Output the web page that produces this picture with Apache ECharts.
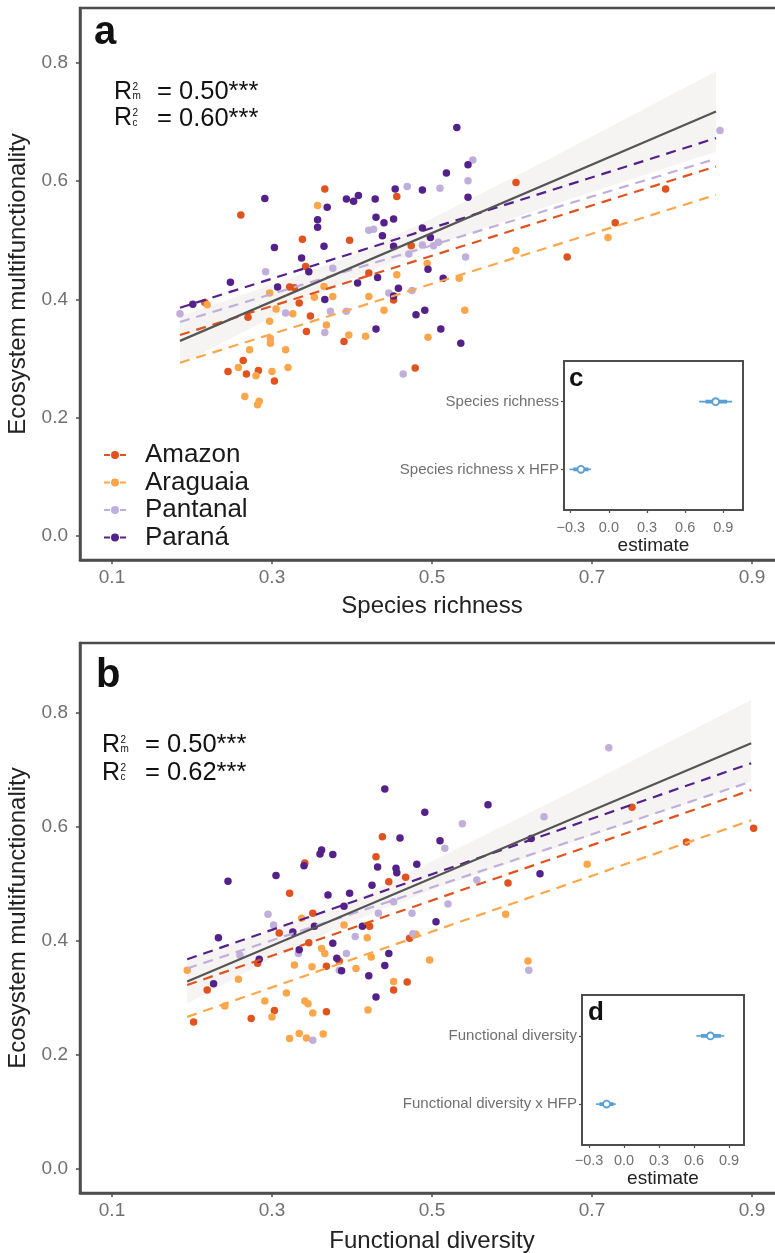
<!DOCTYPE html>
<html>
<head>
<meta charset="utf-8">
<script src="https://cdn.jsdelivr.net/npm/echarts@6/dist/echarts.min.js"></script>
<style>
html,body{margin:0;padding:0;background:#fff;}
#chart{width:775px;height:1253px;}
</style>
</head>
<body>
<div id="chart"></div>
<script>
// ---------------- DATA ----------------
const regions = ['Amazon', 'Araguaia', 'Pantanal', 'Paraná'];

// Panel a: species richness vs multifunctionality
const amazonA = [[0.366,0.587],[0.456,0.574],[0.605,0.598],[0.792,0.587],[0.729,0.530],[0.669,0.472],[0.261,0.543],[0.338,0.502],[0.397,0.500],[0.474,0.491],[0.342,0.456],[0.421,0.445],[0.322,0.421],[0.328,0.420],[0.216,0.395],[0.334,0.394],[0.348,0.372],[0.343,0.346],[0.390,0.329],[0.270,0.370],[0.264,0.297],[0.245,0.278],[0.268,0.274],[0.283,0.280],[0.303,0.262],[0.479,0.284],[0.452,0.399]];
const araguaiaA = [[0.357,0.559],[0.456,0.442],[0.421,0.405],[0.605,0.483],[0.720,0.505],[0.494,0.461],[0.534,0.436],[0.541,0.382],[0.219,0.391],[0.297,0.411],[0.376,0.405],[0.365,0.422],[0.305,0.384],[0.326,0.376],[0.353,0.404],[0.297,0.363],[0.272,0.315],[0.317,0.315],[0.298,0.334],[0.298,0.326],[0.368,0.357],[0.396,0.340],[0.417,0.338],[0.440,0.382],[0.495,0.336],[0.258,0.285],[0.280,0.271],[0.300,0.278],[0.320,0.285],[0.266,0.236],[0.282,0.222],[0.284,0.228]];
const pantanalA = [[0.551,0.636],[0.545,0.601],[0.510,0.588],[0.469,0.591],[0.421,0.517],[0.427,0.519],[0.488,0.492],[0.502,0.491],[0.508,0.497],[0.542,0.472],[0.471,0.477],[0.860,0.686],[0.376,0.453],[0.292,0.447],[0.393,0.380],[0.446,0.411],[0.475,0.415],[0.185,0.376],[0.317,0.377],[0.373,0.380],[0.366,0.344],[0.464,0.274]];
const paranaA = [[0.531,0.691],[0.545,0.628],[0.545,0.573],[0.518,0.614],[0.488,0.585],[0.454,0.587],[0.429,0.570],[0.408,0.576],[0.402,0.566],[0.393,0.570],[0.369,0.556],[0.291,0.571],[0.357,0.535],[0.357,0.522],[0.430,0.539],[0.440,0.530],[0.452,0.536],[0.438,0.508],[0.365,0.490],[0.303,0.488],[0.337,0.470],[0.346,0.447],[0.407,0.428],[0.432,0.437],[0.458,0.419],[0.248,0.429],[0.201,0.392],[0.495,0.451],[0.514,0.436],[0.498,0.505],[0.488,0.521],[0.452,0.490],[0.307,0.421],[0.366,0.400],[0.452,0.406],[0.480,0.374],[0.491,0.382],[0.430,0.350],[0.511,0.350],[0.536,0.326]];

// Panel a fitted lines (x range, y at ends)
const fitAX = [0.185, 0.855];
const fitAOverall = [0.330, 0.718];
const fitAAmazon = [0.340, 0.625];
const fitAAraguaia = [0.293, 0.577];
const fitAPantanal = [0.362, 0.638];
const fitAParana = [0.386, 0.673];
// Panel a confidence ribbon
const ribbonAX = [0.185, 0.30, 0.40, 0.50, 0.65, 0.855];
const ribbonALo = [0.290, 0.370, 0.436, 0.490, 0.560, 0.650];
const ribbonAHi = [0.372, 0.425, 0.474, 0.537, 0.640, 0.786];

// Panel b: functional diversity vs multifunctionality
const amazonB = [[0.438,0.583],[0.430,0.548],[0.341,0.537],[0.467,0.512],[0.446,0.504],[0.322,0.484],[0.595,0.502],[0.750,0.635],[0.818,0.574],[0.902,0.598],[0.351,0.449],[0.422,0.426],[0.309,0.414],[0.346,0.397],[0.282,0.361],[0.368,0.356],[0.384,0.365],[0.219,0.314],[0.202,0.258],[0.274,0.264],[0.303,0.278],[0.368,0.276],[0.452,0.314],[0.469,0.328],[0.472,0.405]];
const araguaiaB = [[0.694,0.535],[0.592,0.447],[0.194,0.349],[0.258,0.333],[0.241,0.286],[0.291,0.295],[0.318,0.309],[0.300,0.267],[0.341,0.295],[0.345,0.290],[0.351,0.274],[0.322,0.229],[0.334,0.238],[0.364,0.237],[0.343,0.230],[0.328,0.358],[0.350,0.355],[0.337,0.440],[0.362,0.387],[0.366,0.378],[0.405,0.352],[0.419,0.406],[0.424,0.372],[0.420,0.279],[0.452,0.329],[0.480,0.412],[0.497,0.367],[0.620,0.365],[0.390,0.428]];
const pantanalB = [[0.721,0.739],[0.538,0.606],[0.640,0.618],[0.516,0.563],[0.556,0.507],[0.452,0.469],[0.475,0.449],[0.520,0.465],[0.295,0.447],[0.302,0.428],[0.260,0.375],[0.333,0.378],[0.393,0.378],[0.404,0.408],[0.384,0.349],[0.351,0.226],[0.621,0.349],[0.476,0.413],[0.433,0.449]];
const paranaB = [[0.441,0.667],[0.570,0.639],[0.491,0.626],[0.510,0.576],[0.460,0.581],[0.362,0.560],[0.360,0.553],[0.376,0.552],[0.340,0.532],[0.305,0.515],[0.245,0.505],[0.432,0.530],[0.455,0.528],[0.456,0.520],[0.481,0.535],[0.425,0.498],[0.370,0.481],[0.397,0.484],[0.635,0.518],[0.624,0.580],[0.390,0.461],[0.505,0.434],[0.233,0.406],[0.227,0.325],[0.284,0.368],[0.326,0.416],[0.334,0.385],[0.376,0.396],[0.381,0.370],[0.387,0.348],[0.413,0.426],[0.421,0.339],[0.430,0.302],[0.441,0.357],[0.446,0.378],[0.353,0.426]];

const fitBX = [0.194, 0.899];
const fitBOverall = [0.329, 0.747];
const fitBAmazon = [0.323, 0.665];
const fitBAraguaia = [0.267, 0.612];
const fitBPantanal = [0.352, 0.680];
const fitBParana = [0.368, 0.712];
const ribbonBX = [0.194, 0.30, 0.40, 0.50, 0.70, 0.899];
const ribbonBLo = [0.290, 0.370, 0.434, 0.490, 0.585, 0.680];
const ribbonBHi = [0.370, 0.420, 0.470, 0.540, 0.680, 0.823];

// Insets c & d: coefficient estimates
const termsC = ['Species richness', 'Species richness x HFP'];
const estC = [0.84, -0.22];
const loC = [0.71, -0.31];
const hiC = [0.97, -0.14];
const lo90C = [0.76, -0.28];
const hi90C = [0.93, -0.16];

const termsD = ['Functional diversity', 'Functional diversity x HFP'];
const estD = [0.74, -0.15];
const loD = [0.62, -0.24];
const hiD = [0.86, -0.07];
const lo90D = [0.66, -0.21];
const hi90D = [0.83, -0.09];

const mainXTicks = [0.1, 0.3, 0.5, 0.7, 0.9];
const mainYTicks = [0, 0.2, 0.4, 0.6, 0.8];
const insetXTicks = [-0.3, 0, 0.3, 0.6, 0.9];

// ---------------- STYLE ----------------
const FONT = '"Liberation Sans", Arial, Helvetica, sans-serif';
const COLORS = {'Amazon':'#e0531f','Araguaia':'#fca64a','Pantanal':'#c0aedb','Paraná':'#54208a'};
const AXIS = '#4d4d4d';
const TICKTXT = '#707070';
const BLUE = '#5a9fd4';

function mainX(gi, name, gap) {
  return {
    gridIndex: gi, type: 'value', min: 0.06, max: 0.94,
    axisLine: {show: true, onZero: false, lineStyle: {color: AXIS, width: 2.5}},
    axisTick: {show: true, length: 4, customValues: mainXTicks, lineStyle: {color: AXIS, width: 1.5}},
    axisLabel: {customValues: mainXTicks, formatter: v => v.toFixed(1), color: TICKTXT, fontSize: 19, fontFamily: FONT, margin: 8},
    splitLine: {show: false},
    name: name, nameLocation: 'middle', nameGap: gap,
    nameTextStyle: {fontSize: 24, color: '#222', fontFamily: FONT}
  };
}
function mainY(gi, min, max) {
  return {
    gridIndex: gi, type: 'value', min: min, max: max,
    axisLine: {show: true, onZero: false, lineStyle: {color: AXIS, width: 2.5}},
    axisTick: {show: true, length: 4, customValues: mainYTicks, lineStyle: {color: AXIS, width: 1.5}},
    axisLabel: {customValues: mainYTicks, formatter: v => v.toFixed(1), color: TICKTXT, fontSize: 19, fontFamily: FONT, margin: 12},
    splitLine: {show: false},
    name: 'Ecosystem multifunctionality', nameLocation: 'middle', nameGap: 46,
    nameTextStyle: {fontSize: 24, color: '#222', fontFamily: FONT}
  };
}
function insetX(gi, min, max, margin, gap) {
  return {
    gridIndex: gi, type: 'value', min: min, max: max,
    axisLine: {show: true, onZero: false, lineStyle: {color: AXIS, width: 2}},
    axisTick: {show: true, length: 3, customValues: insetXTicks, lineStyle: {color: AXIS, width: 1.2}},
    axisLabel: {customValues: insetXTicks, formatter: v => (v < 0 ? '\u2212' : '') + Math.abs(v).toFixed(1), color: TICKTXT, fontSize: 14.5, fontFamily: FONT, margin: margin},
    splitLine: {show: false},
    name: 'estimate', nameLocation: 'middle', nameGap: gap,
    nameTextStyle: {fontSize: 19, color: '#222', fontFamily: FONT}
  };
}
function insetY(gi, terms) {
  const vals = terms.map((t, i) => terms.length - i);
  return {
    gridIndex: gi, type: 'value', min: 0.4, max: 2.6,
    axisLine: {show: true, onZero: false, lineStyle: {color: AXIS, width: 2}},
    axisTick: {show: true, length: 3, customValues: vals, lineStyle: {color: AXIS, width: 1.2}},
    axisLabel: {customValues: vals, formatter: v => terms[terms.length - Math.round(v)], color: TICKTXT, fontSize: 15, fontFamily: FONT, margin: 5},
    splitLine: {show: false}
  };
}

function scatter(name, data, gi) {
  return {type: 'scatter', name: name, data: data, xAxisIndex: gi, yAxisIndex: gi,
    symbolSize: 7.5, itemStyle: {color: COLORS[name], opacity: 1}, z: 3, silent: true};
}
function fitLine(name, xs, ys, gi, dashed) {
  return {type: 'line', name: name + ' fit', data: xs.map((x, i) => [x, ys[i]]),
    xAxisIndex: gi, yAxisIndex: gi, showSymbol: false, symbol: 'none', silent: true, z: dashed ? 4 : 5,
    lineStyle: dashed ? {color: COLORS[name], width: 2.2, type: [10, 7]} : {color: '#555', width: 2.2, type: 'solid'}};
}
function ribbon(xs, lo, hi, gi) {
  return {type: 'custom', xAxisIndex: gi, yAxisIndex: gi, silent: true, z: 2,
    data: [[xs[0], lo[0]]],
    renderItem: (params, api) => {
      const pts = [];
      xs.forEach((x, i) => pts.push(api.coord([x, hi[i]])));
      for (let i = xs.length - 1; i >= 0; i--) pts.push(api.coord([xs[i], lo[i]]));
      return {type: 'polygon', shape: {points: pts}, style: {fill: 'rgba(215,205,195,0.22)'}};
    }};
}
function coef(est, lo, hi, lo9, hi9, gi) {
  const n = est.length;
  return {type: 'custom', xAxisIndex: gi, yAxisIndex: gi, silent: true, z: 6,
    encode: {x: [0, 2, 3], y: 1},
    data: est.map((e, i) => [e, n - i, lo[i], hi[i], lo9[i], hi9[i]]),
    renderItem: (params, api) => {
      const y = api.value(1);
      const a = api.coord([api.value(2), y]), b = api.coord([api.value(3), y]);
      const c = api.coord([api.value(4), y]), d = api.coord([api.value(5), y]);
      const p = api.coord([api.value(0), y]);
      return {type: 'group', children: [
        {type: 'line', shape: {x1: a[0], y1: a[1], x2: b[0], y2: b[1]}, style: {stroke: BLUE, lineWidth: 1.6}},
        {type: 'line', shape: {x1: c[0], y1: c[1], x2: d[0], y2: d[1]}, style: {stroke: BLUE, lineWidth: 3.8}},
        {type: 'circle', shape: {cx: p[0], cy: p[1], r: 3.4}, style: {fill: '#fff', stroke: BLUE, lineWidth: 1.8}}
      ]};
    }};
}
function zeroLine(gi) {
  return {type: 'line', data: [[0, 0.4], [0, 2.6]], xAxisIndex: gi, yAxisIndex: gi, showSymbol: false, symbol: 'none',
    silent: true, z: 3, lineStyle: {color: '#aaa', width: 1, type: [2, 2]}};
}

function r2(x, y, sub, val) {
  return [
    {type: 'text', x: x, y: y, style: {text: 'R', font: '25px ' + FONT, fill: '#111', textVerticalAlign: 'middle'}},
    {type: 'text', x: x + 18.5, y: y - 5, style: {text: '2', font: '10px ' + FONT, fill: '#111', textVerticalAlign: 'middle'}},
    {type: 'text', x: x + 18.5, y: y + 4.5, style: {text: sub, font: '10px ' + FONT, fill: '#111', textVerticalAlign: 'middle'}},
    {type: 'text', x: x + 43, y: y, style: {text: '= ' + val, font: '25.5px ' + FONT, fill: '#111', textVerticalAlign: 'middle'}}
  ];
}

const chart = echarts.init(document.getElementById('chart'), null, {renderer: 'canvas'});

const series = [
  ribbon(ribbonAX, ribbonALo, ribbonAHi, 0),
  scatter('Amazon', amazonA, 0), scatter('Araguaia', araguaiaA, 0), scatter('Pantanal', pantanalA, 0), scatter('Paraná', paranaA, 0),
  fitLine('Amazon', fitAX, fitAAmazon, 0, true), fitLine('Araguaia', fitAX, fitAAraguaia, 0, true),
  fitLine('Pantanal', fitAX, fitAPantanal, 0, true), fitLine('Paraná', fitAX, fitAParana, 0, true),
  Object.assign(fitLine('Amazon', fitAX, fitAOverall, 0, false), {name: 'overall a'}),
  zeroLine(1), coef(estC, loC, hiC, lo90C, hi90C, 1),
  ribbon(ribbonBX, ribbonBLo, ribbonBHi, 2),
  scatter('Amazon', amazonB, 2), scatter('Araguaia', araguaiaB, 2), scatter('Pantanal', pantanalB, 2), scatter('Paraná', paranaB, 2),
  fitLine('Amazon', fitBX, fitBAmazon, 2, true), fitLine('Araguaia', fitBX, fitBAraguaia, 2, true),
  fitLine('Pantanal', fitBX, fitBPantanal, 2, true), fitLine('Paraná', fitBX, fitBParana, 2, true),
  Object.assign(fitLine('Amazon', fitBX, fitBOverall, 2, false), {name: 'overall b'}),
  zeroLine(3), coef(estD, loD, hiD, lo90D, hi90D, 3)
];

const legendIcon = 'path://M0,4 L6,4 L6,6 L0,6 Z M16,4 L22,4 L22,6 L16,6 Z M11,1 A4,4 0 1,1 10.99,1 Z';

const option = {
  animation: false,
  backgroundColor: '#fff',
  textStyle: {fontFamily: FONT},
  grid: [
    {left: 80, top: 8, width: 704, height: 552, outerBoundsMode: 'none', containLabel: false, show: true, borderColor: AXIS, borderWidth: 2.5, backgroundColor: 'transparent'},
    {left: 564, top: 361, width: 179, height: 149, outerBoundsMode: 'none', containLabel: false, show: true, borderColor: AXIS, borderWidth: 2, backgroundColor: '#fff', z: 4},
    {left: 80, top: 643, width: 704, height: 550, outerBoundsMode: 'none', containLabel: false, show: true, borderColor: AXIS, borderWidth: 2.5, backgroundColor: 'transparent'},
    {left: 582, top: 995, width: 162, height: 150, outerBoundsMode: 'none', containLabel: false, show: true, borderColor: AXIS, borderWidth: 2, backgroundColor: '#fff', z: 4}
  ],
  xAxis: [
    mainX(0, 'Species richness', 34),
    insetX(1, -0.353, 1.055, 10, 26),
    mainX(2, 'Functional diversity', 36),
    insetX(3, -0.36, 1.028, 8, 24)
  ],
  yAxis: [
    mainY(0, -0.0406, 0.893),
    insetY(1, termsC),
    mainY(2, -0.042, 0.923),
    insetY(3, termsD)
  ],
  legend: {
    data: regions, orient: 'vertical', left: 99, top: 437,
    icon: legendIcon, itemWidth: 22, itemHeight: 8, itemGap: 1.5,
    formatter: n => '{g|}{t|' + n + '}',
    textStyle: {rich: {g: {width: 14}, t: {fontSize: 26, color: '#1a1a1a', fontFamily: FONT, lineHeight: 26}}},
    selectedMode: false
  },
  graphic: [
    {type: 'text', x: 94, y: 33, style: {text: 'a', font: 'bold 40px ' + FONT, fill: '#111', textVerticalAlign: 'middle'}},
    {type: 'text', x: 96, y: 676, style: {text: 'b', font: 'bold 40px ' + FONT, fill: '#111', textVerticalAlign: 'middle'}},
    {type: 'text', x: 569, y: 379, z: 10, style: {text: 'c', font: 'bold 26px ' + FONT, fill: '#111', textVerticalAlign: 'middle'}},
    {type: 'text', x: 588, y: 1013, z: 10, style: {text: 'd', font: 'bold 26px ' + FONT, fill: '#111', textVerticalAlign: 'middle'}},
    ...r2(114, 92, 'm', '0.50***'),
    ...r2(114, 118.5, 'c', '0.60***'),
    ...r2(102, 745, 'm', '0.50***'),
    ...r2(102, 773, 'c', '0.62***')
  ],
  series: series
};
chart.setOption(option);
</script>
</body>
</html>
